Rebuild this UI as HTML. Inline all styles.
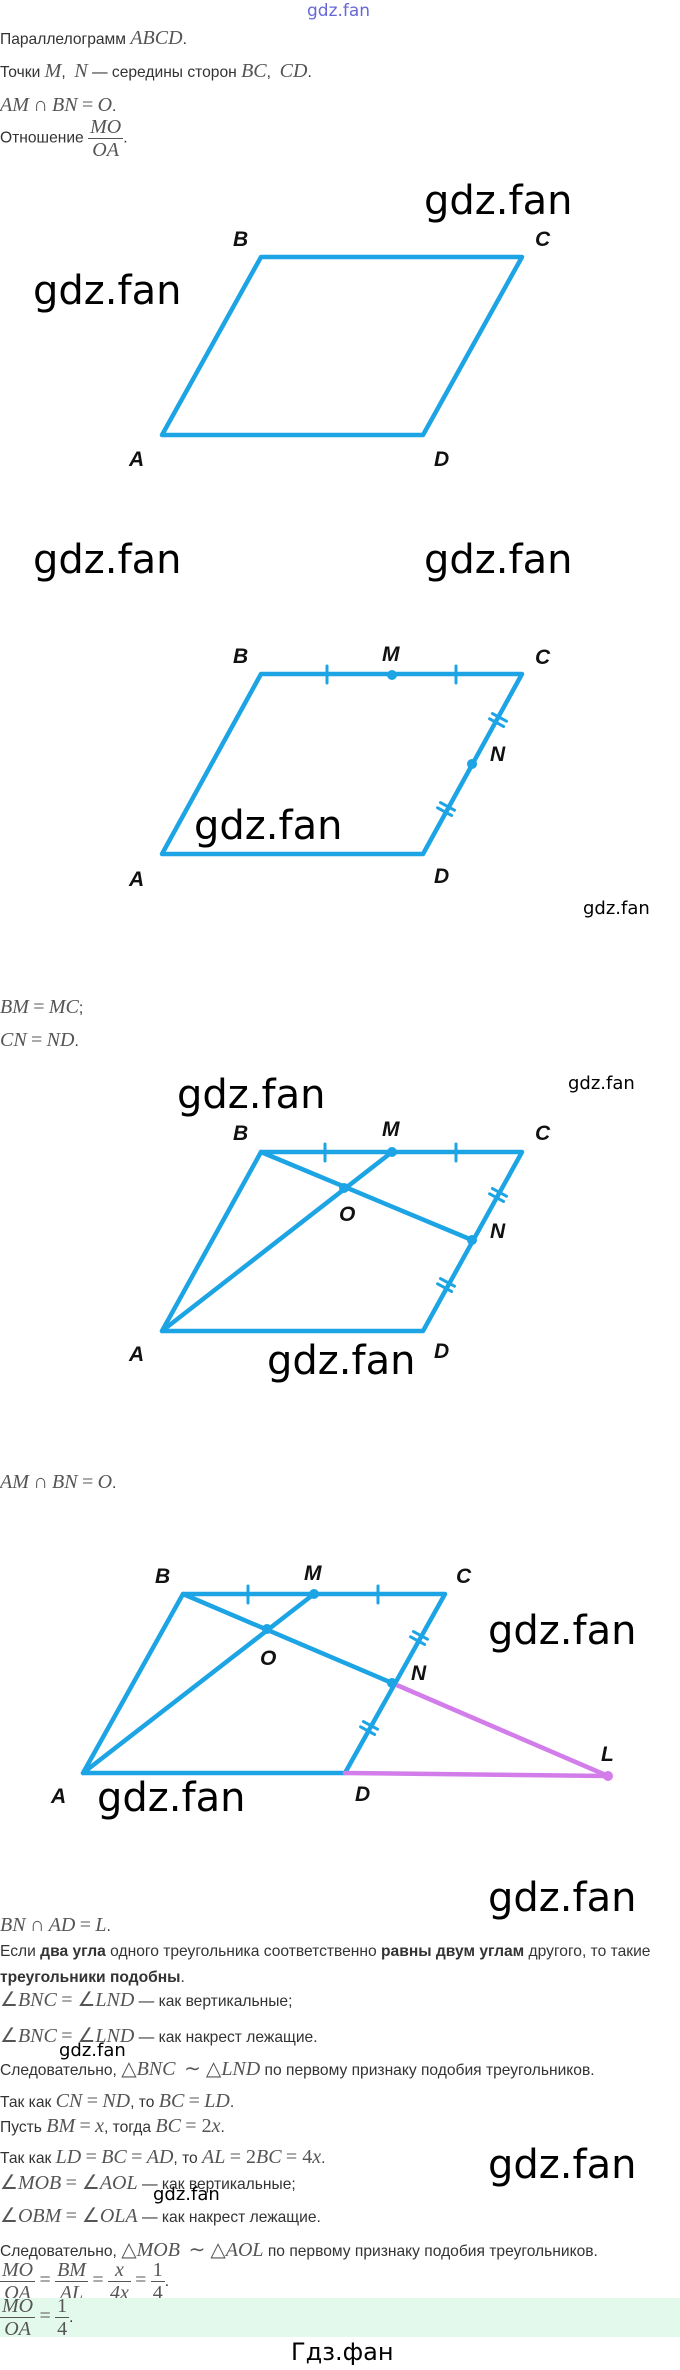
<!DOCTYPE html>
<html><head><meta charset="utf-8">
<style>
body{margin:0;background:#fff;}
#p{position:relative;width:680px;height:2370px;overflow:hidden;font-family:"Liberation Sans",sans-serif;color:#333;}
.t{position:absolute;left:0;white-space:nowrap;font-size:15.6px;line-height:20px;}
.m{font-family:"Liberation Serif",serif;font-style:italic;font-size:20px;color:#555;}
.r{font-family:"Liberation Serif",serif;font-size:20px;color:#555;}
.wm{position:absolute;font-family:"DejaVu Sans",sans-serif;font-size:40px;color:#000;line-height:1;white-space:nowrap;}
.ws{position:absolute;font-family:"DejaVu Sans",sans-serif;font-size:18px;color:#000;line-height:1;white-space:nowrap;}
.fr{display:inline-block;vertical-align:middle;text-align:center;font-family:"Liberation Serif",serif;font-style:italic;font-size:20px;color:#555;line-height:22px;}
.fr span{display:block;padding:0 2px;}
.fr span:first-child{border-bottom:1px solid #555;}
svg{position:absolute;left:0;top:0;}
svg text{font-family:"Liberation Sans Narrow","Liberation Sans",sans-serif;font-weight:bold;font-style:italic;font-size:21px;fill:#111;}
</style></head><body><div id="p">
<svg width="680" height="2370" viewBox="0 0 680 2370">
<defs>
<g id="dt"><line x1="-3" y1="-8" x2="-3" y2="8"/><line x1="3" y1="-8" x2="3" y2="8"/></g>
</defs>
<g fill="none" stroke="#1ca4e4" stroke-width="4.5" stroke-linejoin="round" stroke-linecap="round">
<polygon points="162,435 261,257 522,257 423,435"/>
<polygon points="162,854 261,674 522,674 423,854"/>
<line x1="327" y1="666" x2="327" y2="683" stroke-width="3"/>
<line x1="456" y1="666" x2="456" y2="683" stroke-width="3"/>
<g stroke-width="3"><use href="#dt" transform="translate(498,720) rotate(118.8)"/><use href="#dt" transform="translate(446,809) rotate(118.8)"/></g>
<polygon points="162,1331 261,1152 522,1152 423,1331"/>
<line x1="162" y1="1331" x2="392" y2="1152"/>
<line x1="261" y1="1152" x2="472" y2="1240"/>
<line x1="325" y1="1144" x2="325" y2="1161" stroke-width="3"/>
<line x1="456" y1="1144" x2="456" y2="1161" stroke-width="3"/>
<g stroke-width="3"><use href="#dt" transform="translate(498,1195) rotate(118.8)"/><use href="#dt" transform="translate(446,1285) rotate(118.8)"/></g>
<polygon points="83,1773 183,1594 445,1594 345,1773"/>
<line x1="83" y1="1773" x2="314" y2="1594"/>
<line x1="183" y1="1594" x2="392" y2="1683"/>
<line x1="248" y1="1586" x2="248" y2="1603" stroke-width="3"/>
<line x1="378" y1="1586" x2="378" y2="1603" stroke-width="3"/>
<g stroke-width="3"><use href="#dt" transform="translate(419,1638) rotate(118.8)"/><use href="#dt" transform="translate(369,1728) rotate(118.8)"/></g>
</g>
<g stroke="#d27de9" stroke-width="4.5" stroke-linecap="round">
<line x1="392" y1="1683" x2="608" y2="1776"/>
<line x1="345" y1="1773" x2="608" y2="1776"/>
</g>
<g fill="#1ca4e4">
<circle cx="392" cy="675" r="5"/><circle cx="472" cy="764" r="5"/>
<circle cx="392" cy="1152" r="5"/><circle cx="344" cy="1188" r="5"/><circle cx="472" cy="1240" r="5"/>
<circle cx="314" cy="1594" r="5"/><circle cx="267" cy="1629" r="5"/><circle cx="392" cy="1683" r="5"/>
</g>
<circle cx="608" cy="1776" r="5" fill="#d27de9"/>
<text x="233" y="246">B</text><text x="535" y="246">C</text><text x="129" y="466">A</text><text x="434" y="466">D</text>
<text x="233" y="663">B</text><text x="382" y="661">M</text><text x="535" y="664">C</text><text x="490" y="761">N</text><text x="129" y="886">A</text><text x="434" y="883">D</text>
<text x="233" y="1140">B</text><text x="382" y="1136">M</text><text x="535" y="1140">C</text><text x="339" y="1221">O</text><text x="490" y="1238">N</text><text x="129" y="1361">A</text><text x="434" y="1358">D</text>
<text x="155" y="1583">B</text><text x="304" y="1580">M</text><text x="456" y="1583">C</text><text x="260" y="1665">O</text><text x="411" y="1680">N</text><text x="601" y="1761">L</text><text x="51" y="1803">A</text><text x="355" y="1801">D</text>
</svg>

<div class="ws" style="left:307px;top:3px;font-size:17px;color:#3333cc;opacity:.75;">gdz.fan</div>

<div class="t" style="top:28px">Параллелограмм <span class="m">ABCD</span>.</div>
<div class="t" style="top:61px">Точки <span class="m">M</span>, &nbsp;<span class="m">N</span> — середины сторон <span class="m">BC</span>, &nbsp;<span class="m">CD</span>.</div>
<div class="t" style="top:95px"><span class="m">AM</span> <span class="r">∩</span> <span class="m">BN</span> <span class="r">=</span> <span class="m">O</span>.</div>
<div class="t" style="top:116px;line-height:44px">Отношение <span class="fr"><span>MO</span><span>OA</span></span>.</div>

<div class="wm" style="left:424px;top:181px">gdz.fan</div>
<div class="wm" style="left:33px;top:271px">gdz.fan</div>
<div class="wm" style="left:33px;top:540px">gdz.fan</div>
<div class="wm" style="left:424px;top:540px">gdz.fan</div>
<div class="wm" style="left:194px;top:806px">gdz.fan</div>
<div class="ws" style="left:583px;top:900px">gdz.fan</div>

<div class="t" style="top:997px"><span class="m">BM</span> <span class="r">=</span> <span class="m">MC</span>;</div>
<div class="t" style="top:1030px"><span class="m">CN</span> <span class="r">=</span> <span class="m">ND</span>.</div>
<div class="wm" style="left:177px;top:1075px">gdz.fan</div>
<div class="ws" style="left:568px;top:1075px">gdz.fan</div>
<div class="wm" style="left:267px;top:1341px">gdz.fan</div>
<div class="t" style="top:1472px"><span class="m">AM</span> <span class="r">∩</span> <span class="m">BN</span> <span class="r">=</span> <span class="m">O</span>.</div>

<div class="wm" style="left:488px;top:1611px">gdz.fan</div>
<div class="wm" style="left:97px;top:1778px">gdz.fan</div>
<div class="wm" style="left:488px;top:1878px">gdz.fan</div>

<div class="t" style="top:1915px"><span class="m">BN</span> <span class="r">∩</span> <span class="m">AD</span> <span class="r">=</span> <span class="m">L</span>.</div>
<div class="t" style="top:1942px">Если <b>два угла</b> одного треугольника соответственно <b>равны двум углам</b> другого, то такие</div>
<div class="t" style="top:1968px"><b>треугольники подобны</b>.</div>
<div class="t" style="top:1990px"><span class="r">∠</span><span class="m">BNC</span> <span class="r">= ∠</span><span class="m">LND</span> — как вертикальные;</div>
<div class="t" style="top:2026px"><span class="r">∠</span><span class="m">BNC</span> <span class="r">= ∠</span><span class="m">LND</span> — как накрест лежащие.</div>
<div class="ws" style="left:59px;top:2042px">gdz.fan</div>
<div class="t" style="top:2059px">Следовательно, <span class="r">△</span><span class="m">BNC</span> &nbsp;<span class="r">∼ △</span><span class="m">LND</span> по первому признаку подобия треугольников.</div>
<div class="t" style="top:2091px">Так как <span class="m">CN</span> <span class="r">=</span> <span class="m">ND</span>, то <span class="m">BC</span> <span class="r">=</span> <span class="m">LD</span>.</div>
<div class="t" style="top:2116px">Пусть <span class="m">BM</span> <span class="r">=</span> <span class="m">x</span>, тогда <span class="m">BC</span> <span class="r">= 2</span><span class="m">x</span>.</div>
<div class="t" style="top:2147px">Так как <span class="m">LD</span> <span class="r">=</span> <span class="m">BC</span> <span class="r">=</span> <span class="m">AD</span>, то <span class="m">AL</span> <span class="r">= 2</span><span class="m">BC</span> <span class="r">= 4</span><span class="m">x</span>.</div>
<div class="wm" style="left:488px;top:2145px">gdz.fan</div>
<div class="t" style="top:2173px"><span class="r">∠</span><span class="m">MOB</span> <span class="r">= ∠</span><span class="m">AOL</span> — как вертикальные;</div>
<div class="ws" style="left:153px;top:2186px">gdz.fan</div>
<div class="t" style="top:2206px"><span class="r">∠</span><span class="m">OBM</span> <span class="r">= ∠</span><span class="m">OLA</span> — как накрест лежащие.</div>
<div class="t" style="top:2240px">Следовательно, <span class="r">△</span><span class="m">MOB</span> &nbsp;<span class="r">∼ △</span><span class="m">AOL</span> по первому признаку подобия треугольников.</div>
<div class="t" style="top:2258px;line-height:44px"><span class="fr"><span>MO</span><span>OA</span></span> <span class="r">=</span> <span class="fr"><span>BM</span><span>AL</span></span> <span class="r">=</span> <span class="fr"><span>x</span><span>4x</span></span> <span class="r">=</span> <span class="fr" style="font-style:normal"><span>1</span><span>4</span></span>.</div>
<div style="position:absolute;left:0;top:2298px;width:680px;height:39px;background:#e3f9ec;overflow:hidden;">
<div class="t" style="top:-4px;line-height:44px"><span class="fr"><span>MO</span><span>OA</span></span> <span class="r">=</span> <span class="fr" style="font-style:normal"><span>1</span><span>4</span></span>.</div>
</div>
<div class="ws" style="left:291px;top:2340px;font-size:24px;">Гдз.фан</div>
</div></body></html>
